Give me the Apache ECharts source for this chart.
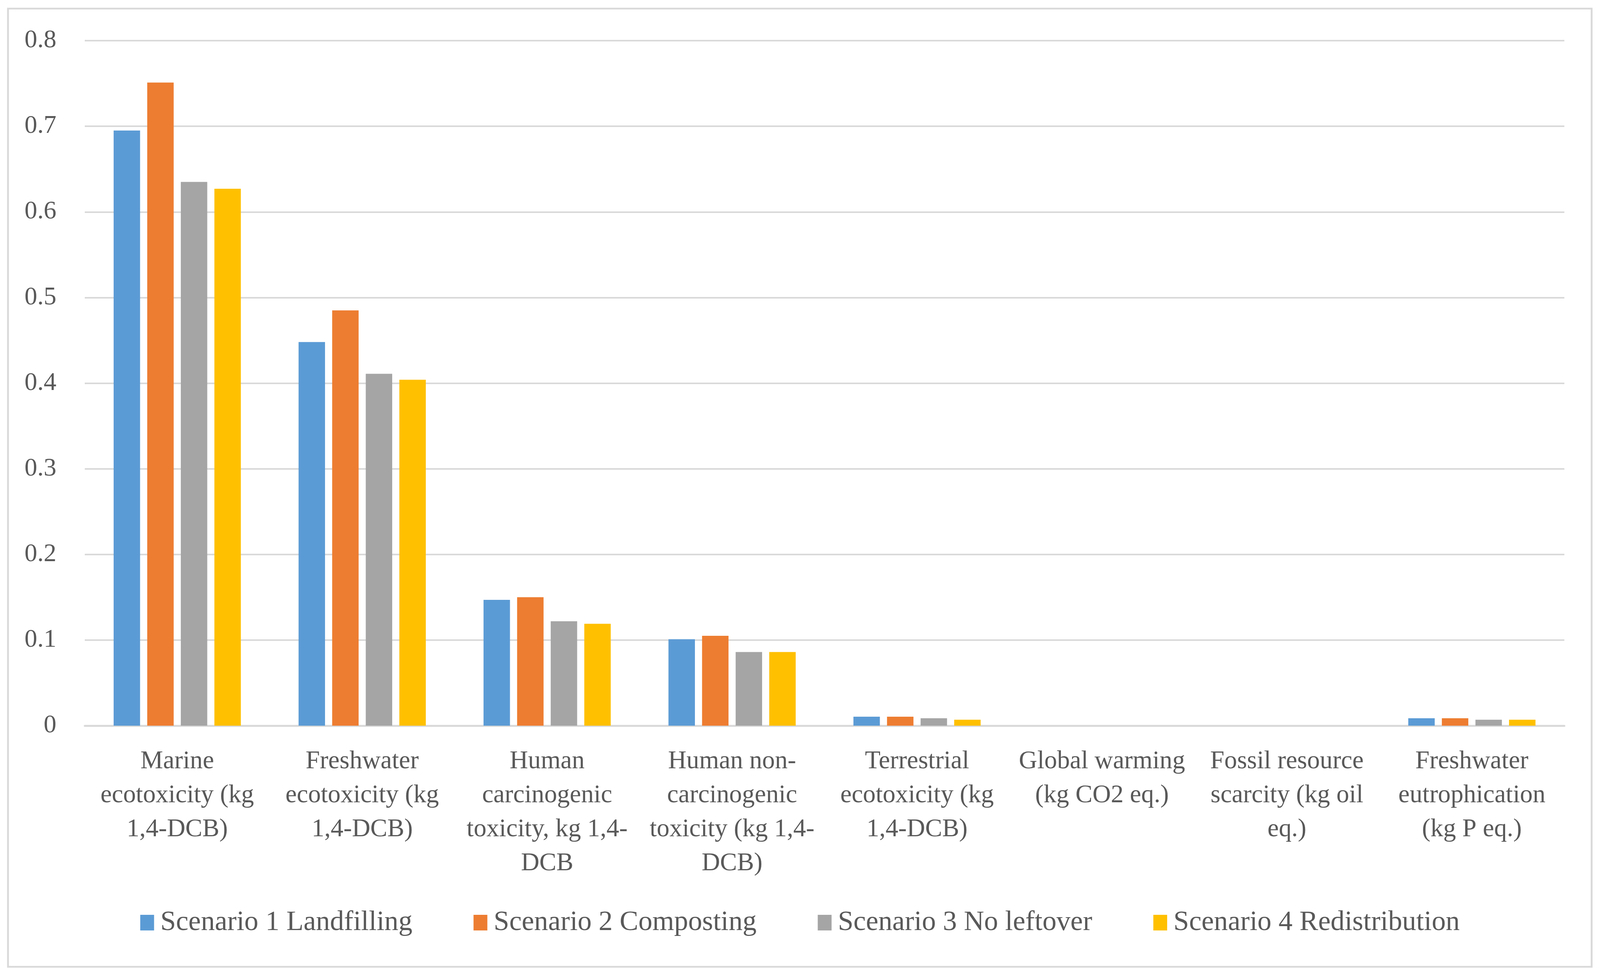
<!DOCTYPE html>
<html>
<head>
<meta charset="utf-8">
<script src="https://cdn.jsdelivr.net/npm/echarts@6/dist/echarts.min.js"></script>
<style>
html,body{margin:0;padding:0;background:#fff;overflow:hidden;}
#chart{position:absolute;left:0;top:0;}
</style>
</head>
<body>
<div id="chart"></div>
<script>
const categories = [
  'Marine\necotoxicity (kg\n1,4-DCB)',
  'Freshwater\necotoxicity (kg\n1,4-DCB)',
  'Human\ncarcinogenic\ntoxicity, kg 1,4-\nDCB',
  'Human non-\ncarcinogenic\ntoxicity (kg 1,4-\nDCB)',
  'Terrestrial\necotoxicity (kg\n1,4-DCB)',
  'Global warming\n(kg CO2 eq.)',
  'Fossil resource\nscarcity (kg oil\neq.)',
  'Freshwater\neutrophication\n(kg P eq.)'
];
const seriesNames = ['Scenario 1 Landfilling', 'Scenario 2 Composting', 'Scenario 3 No leftover', 'Scenario 4 Redistribution'];
const scenario1 = [0.695, 0.448, 0.147, 0.101, 0.0105, 0, 0, 0.0087];
const scenario2 = [0.751, 0.485, 0.150, 0.105, 0.0105, 0, 0, 0.0087];
const scenario3 = [0.635, 0.411, 0.122, 0.086, 0.0087, 0, 0, 0.007];
const scenario4 = [0.627, 0.404, 0.119, 0.086, 0.007, 0, 0, 0.007];
const yTicks = {min: 0, max: 0.8, interval: 0.1};

const colors = ['#5B9BD5', '#ED7D31', '#A5A5A5', '#FFC000'];
const font = 'Liberation Serif';
const textColor = '#595959';
const values = [scenario1, scenario2, scenario3, scenario4];

const W = window.innerWidth, H = window.innerHeight;
const sx = W / 4398, sy = H / 2495;
const el = document.getElementById('chart');
el.style.width = W + 'px';
el.style.height = H + 'px';
const px = v => v * sx;
const py = v => v * sy;

const chart = echarts.init(el, null, {renderer: 'canvas'});
chart.setOption({
  backgroundColor: '#ffffff',
  animation: false,
  color: colors,
  graphic: [{
    type: 'rect',
    shape: {x: px(22), y: py(22), width: px(4353), height: py(2452)},
    style: {fill: 'none', stroke: '#D9D9D9', lineWidth: px(5)},
    silent: true
  }],
  grid: {left: px(233), right: px(98), top: py(104), bottom: py(638), containLabel: false},
  legend: {
    data: seriesNames,
    left: 'center',
    top: py(2320),
    itemWidth: px(38),
    itemHeight: py(40),
    itemGap: px(168),
    icon: 'rect',
    textStyle: {fontFamily: font, fontSize: px(77), lineHeight: py(40), color: textColor, padding: [0, 0, 0, px(12)]}
  },
  xAxis: {
    type: 'category',
    data: categories,
    axisTick: {show: false},
    axisLine: {lineStyle: {color: '#D9D9D9', width: py(5)}},
    axisLabel: {
      interval: 0,
      margin: py(48),
      fontFamily: font,
      fontSize: px(70),
      lineHeight: py(87),
      color: textColor,
      align: 'center'
    }
  },
  yAxis: {
    type: 'value',
    min: yTicks.min,
    max: yTicks.max,
    interval: yTicks.interval,
    axisLine: {show: false},
    axisTick: {show: false},
    splitLine: {lineStyle: {color: '#D9D9D9', width: py(4)}},
    axisLabel: {
      margin: px(78),
      fontFamily: font,
      fontSize: px(70),
      color: textColor,
      formatter: v => String(Math.round(v * 10) / 10)
    }
  },
  series: seriesNames.map((name, i) => ({
    name: name,
    type: 'bar',
    data: values[i],
    barWidth: '14.3%',
    barGap: '27%',
    itemStyle: {color: colors[i]}
  }))
});
</script>
</body>
</html>
